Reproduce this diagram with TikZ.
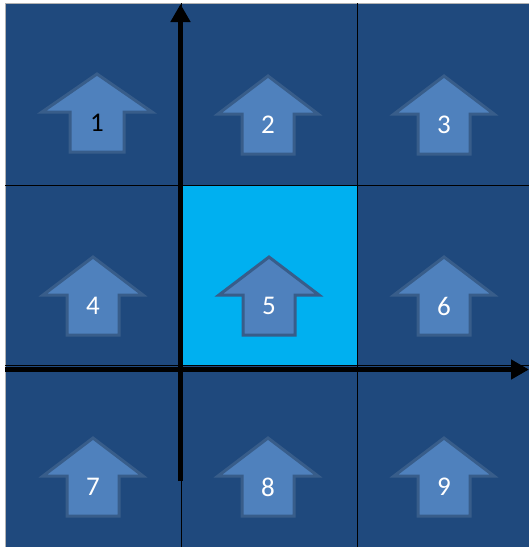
\documentclass[tikz,border=0pt]{standalone}
\usepackage{fontspec}
\setmainfont{Carlito}
\usetikzlibrary{arrows.meta}
\definecolor{cellblue}{HTML}{1F497D}
\definecolor{cellcyan}{HTML}{00B0F0}
\definecolor{arrfill}{HTML}{4F81BD}
\definecolor{arrline}{HTML}{385D8A}
\tikzset{
  cell/.style={fill=cellblue},
  hicell/.style={fill=cellcyan},
  gridline/.style={draw=black, line width=0.9pt},
  axis/.style={draw=black, line width=4.5pt, -{Triangle[length=18pt,width=19pt]}},
  bigarrow/.style={fill=arrfill, draw=arrline, line width=3pt, line join=miter},
  numlabel/.style={font=\fontsize{27}{30}\selectfont, text=white, inner sep=0pt},
}
% \bigup{cx}{tipy}{halfwidth}{shafthalf}{label}{name}{textcolor}
\newcommand\bigup[7]{%
  \path[bigarrow] (#1,#2) -- (#1+#3,#2+38) -- (#1+#4,#2+38) -- (#1+#4,#2+78)
     -- (#1-#4,#2+78) -- (#1-#4,#2+38) -- (#1-#3,#2+38) -- cycle;
  \node[numlabel, text=#7] (#6) at (#1,#2+49) {#5};
}
\begin{document}
\begin{tikzpicture}[x=1pt,y=-1pt]
\useasboundingbox (0,0) rectangle (529,547);
\fill[white] (0,0) rectangle (529,547);
% cells
\fill[cell] (5,3) rectangle (529,547);
\fill[hicell] (181,185) rectangle (357,365);
\draw[draw=gray!60, line width=1pt] (5,547) -- (5,3) -- (529,3);
% grid
\draw[gridline] (181,3) -- (181,547);
\draw[gridline] (357,3) -- (357,547);
\draw[gridline] (5,185) -- (529,185);
\draw[gridline] (5,365) -- (529,365);
% arrows
\bigup{97}{74}{55}{27}{1}{l1}{black}
\bigup{268}{76}{50}{26}{2}{l2}{white}
\bigup{444}{76}{50}{26}{3}{l3}{white}
\bigup{93}{257}{50}{26}{4}{l4}{white}
\bigup{269}{257}{50}{26}{5}{l5}{white}
\bigup{444}{257}{50}{26}{6}{l6}{white}
\bigup{93}{438}{50}{26}{7}{l7}{white}
\bigup{268}{438}{50}{26}{8}{l8}{white}
\bigup{444}{438}{50}{26}{9}{l9}{white}
% axes
\coordinate (ybot) at (180.5,481);
\coordinate (ytop) at (180.5,4);
\coordinate (xleft) at (5,369.5);
\coordinate (xright) at (529,369.5);
\draw[axis] (ybot) -- (ytop);
\draw[axis] (xleft) -- (xright);
\end{tikzpicture}
\end{document}
